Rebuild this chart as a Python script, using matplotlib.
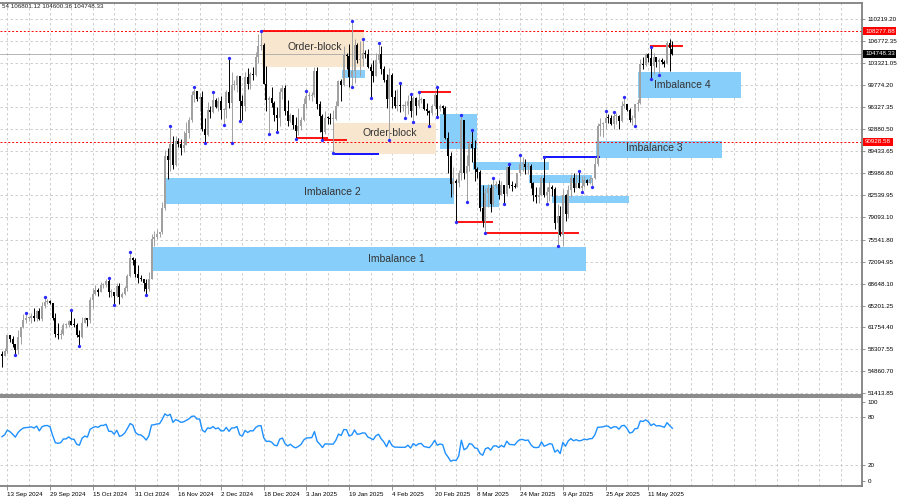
import numpy as np
import pandas as pd
import matplotlib
matplotlib.use('Agg')
import matplotlib.pyplot as plt
import matplotlib.dates as mdates
from matplotlib.patches import Rectangle

plt.rcParams['font.family'] = ['Liberation Sans', 'DejaVu Sans']

# BTCUSD daily bars, prices in thousands of USD, first bar on 11 Sep 2024
start_date = '2024-09-11'

opens = [
    57.6, 57.3, 58.1, 60.5, 60.0, 59.2, 58.2, 60.3, 61.8, 62.9, 63.2, 63.3, 63.6, 63.3, 64.3, 63.1, 65.2, 65.8, 65.9, 65.6,  # sep
    63.3, 60.8, 60.6, 60.8, 62.1, 62.1, 62.8, 62.2, 62.1, 60.6, 60.3, 62.4, 63.2, 62.9, 66.1, 67.0, 67.6, 67.4, 68.4, 68.4,
    69.0, 67.4, 67.4, 66.7, 68.2, 66.6, 67.0, 67.9, 69.9, 72.7, 72.3,  # oct
    70.2, 69.5, 69.4, 68.8, 67.8, 69.4, 75.6, 75.9, 76.5, 76.7, 80.5, 88.7, 88.0, 90.6, 87.3, 91.1, 90.6, 89.9, 90.5, 92.3,
    94.3, 98.3, 98.9, 97.7, 97.9, 93.0, 92.0, 95.9, 95.6, 97.5,  # nov
    96.4, 97.3, 95.9, 96.0, 98.8, 97.0, 99.9, 99.9, 101.2, 97.3, 96.6, 101.1, 100.0, 101.5, 101.4, 104.3, 106.0, 106.1,
    100.0, 97.5, 97.8, 97.1, 95.1, 94.7, 98.7, 99.4, 95.8, 94.2, 95.2, 93.5, 92.6,  # dec
    93.4, 94.4, 96.9, 98.1, 98.2, 98.3, 102.1, 96.9, 95.0, 92.5, 94.7, 94.6, 94.5, 94.5, 96.5, 100.5, 99.8, 104.5, 104.4,
    101.1, 102.0, 106.1, 103.7, 104.0, 104.8, 104.7, 102.7, 102.1, 101.3, 103.7, 104.7,  # jan
    102.4, 100.7, 97.7, 101.4, 97.9, 96.6, 96.6, 96.5, 96.5, 96.5, 97.4, 95.8, 97.8, 96.6, 97.5, 97.6, 96.1, 95.8, 95.5,
    96.6, 98.3, 96.1, 96.6, 96.3, 91.6, 88.7, 84.3, 84.7,  # feb
    84.4, 86.0, 94.3, 86.1, 87.2, 90.6, 90.0, 86.7, 86.2, 80.6, 78.5, 82.9, 83.7, 81.1, 84.0, 84.3, 82.6, 84.1, 82.7, 86.9,
    84.2, 84.0, 83.8, 86.1, 87.5, 87.5, 86.9, 87.2, 84.4, 82.6, 82.3,  # mar
    82.5, 85.2, 82.5, 83.1, 83.8, 83.5, 78.2, 79.2, 76.3, 82.6, 79.6, 83.4, 85.3, 83.7, 84.5, 83.7, 84.0, 84.9, 84.5, 85.1,
    85.2, 87.5, 93.4, 93.7, 93.9, 94.7, 94.6, 93.8, 95.0, 95.0,  # apr
    94.2, 96.5, 96.9, 95.9, 94.3, 94.7, 96.8, 97.0, 103.2, 103.0, 104.7, 104.1, 102.8, 104.2, 103.5, 103.7, 103.5, 103.2,
    106.5, 105.46054,  # may
]
highs = [
    58.0, 58.6, 60.6, 60.6, 60.4, 59.2, 61.3, 61.8, 63.8, 64.1, 63.5, 64.0, 64.8, 64.5, 64.8, 65.8, 66.5, 66.3, 66.1, 65.6,
    64.1, 62.4, 61.5, 62.5, 62.4, 62.9, 64.5, 63.2, 62.5, 61.3, 63.4, 63.4, 63.3, 66.5, 67.9, 68.4, 67.9, 68.9, 68.7, 69.4,
    69.5, 67.8, 67.4, 68.8, 68.8, 67.4, 68.3, 70.2, 73.6, 72.9, 72.6,
    71.6, 70.0, 69.4, 69.4, 70.5, 76.4, 76.9, 77.2, 76.8, 81.5, 89.6, 89.9, 93.4, 91.8, 91.8, 91.6, 91.4, 92.6, 94.0, 94.8,
    98.9, 99.6, 98.9, 98.6, 98.9, 94.7, 97.2, 96.6, 98.7, 97.8,
    97.9, 98.1, 96.3, 99.0, 104.1, 101.9, 100.6, 101.4, 101.2, 98.3, 101.9, 102.5, 101.9, 102.6, 105.1, 107.8, 108.3,
    106.5, 102.8, 98.1, 99.5, 97.4, 96.4, 99.4, 99.9, 99.9, 97.5, 95.5, 95.2, 94.9, 96.2,
    94.9, 97.8, 98.9, 98.7, 98.8, 102.7, 102.7, 97.3, 95.3, 95.8, 95.0, 95.4, 95.9, 97.4, 100.7, 100.8, 105.9, 104.9,
    106.3, 109.9, 107.1, 106.4, 106.8, 107.0, 105.3, 105.5, 103.2, 103.8, 104.8, 106.4, 106.0,
    102.8, 101.5, 102.5, 101.7, 99.1, 99.2, 100.1, 96.9, 97.3, 98.3, 98.5, 98.1, 97.9, 98.8, 97.9, 97.7, 97.0, 96.0, 96.9,
    98.8, 99.5, 96.9, 96.7, 96.5, 92.5, 89.3, 87.0, 85.1,
    86.5, 95.1, 94.4, 88.9, 91.0, 92.8, 91.2, 86.9, 86.5, 84.1, 83.6, 84.3, 84.3, 85.2, 84.7, 85.0, 84.7, 84.1, 87.0, 87.4,
    84.8, 84.5, 86.1, 88.8, 88.5, 88.3, 87.8, 87.5, 84.6, 83.9, 83.9,
    85.5, 88.5, 83.9, 84.7, 84.2, 83.8, 81.1, 80.8, 83.5, 82.7, 84.2, 85.8, 86.1, 85.8, 86.4, 85.5, 85.5, 85.1, 85.6, 85.3,
    88.5, 93.9, 94.7, 94.0, 95.7, 95.3, 95.2, 95.6, 95.4, 95.2,
    97.4, 97.9, 96.9, 96.3, 95.2, 96.9, 97.7, 103.9, 104.3, 104.9, 104.9, 105.8, 104.9, 104.3, 104.1, 104.1, 103.7, 106.7,
    107.1, 106.80112,
]
lows = [
    55.6, 57.3, 57.7, 59.5, 58.7, 57.5, 57.6, 59.2, 61.6, 62.4, 62.8, 62.4, 62.7, 62.7, 62.9, 62.7, 64.8, 65.4, 65.4, 62.9,
    60.2, 59.9, 59.9, 60.5, 61.7, 61.8, 62.1, 61.8, 60.3, 58.9, 60.1, 62.4, 62.0, 62.5, 64.8, 66.8, 66.7, 67.3, 68.0, 68.1,
    66.6, 66.6, 65.3, 66.6, 65.5, 66.4, 66.8, 67.5, 69.7, 71.5, 69.7,
    68.8, 69.0, 67.5, 66.8, 67.5, 69.3, 74.5, 75.6, 75.9, 76.5, 80.2, 85.1, 86.3, 86.7, 87.1, 90.1, 88.8, 89.4, 90.4, 91.6,
    94.1, 97.2, 97.3, 95.8, 92.6, 90.8, 91.8, 94.6, 95.4, 96.2,
    95.7, 94.5, 93.6, 94.7, 96.3, 90.8, 99.0, 98.8, 94.2, 94.3, 95.7, 99.3, 99.2, 100.6, 101.2, 103.3, 105.3, 100.0,
    95.7, 92.2, 96.4, 94.2, 92.4, 93.4, 97.6, 95.2, 93.4, 94.1, 93.0, 91.3, 92.0,
    92.8, 94.2, 96.2, 97.5, 97.3, 97.9, 96.1, 92.5, 91.2, 92.2, 93.8, 93.7, 89.1, 94.3, 96.5, 97.4, 99.7, 102.3, 99.6,
    99.5, 100.1, 103.3, 101.3, 102.8, 104.1, 102.5, 97.8, 100.3, 101.3, 103.3, 101.6,
    100.3, 96.2, 91.2, 96.2, 96.2, 95.7, 95.6, 95.7, 94.7, 95.3, 94.9, 94.1, 95.2, 96.3, 97.1, 96.0, 95.2, 93.4, 95.2,
    96.4, 94.9, 95.8, 95.3, 91.4, 86.1, 82.3, 82.8, 78.3,
    83.9, 85.0, 85.1, 81.5, 86.3, 87.8, 84.7, 85.3, 80.1, 77.5, 76.6, 80.7, 79.9, 80.8, 83.6, 82.0, 82.5, 81.2, 82.4, 83.7,
    83.2, 83.7, 83.8, 85.5, 86.3, 85.9, 85.8, 83.6, 81.6, 81.3, 81.3,
    82.4, 82.3, 81.2, 81.7, 82.4, 77.2, 74.5, 76.2, 74.6, 78.5, 78.9, 82.3, 83.0, 83.7, 83.6, 83.1, 83.9, 84.1, 84.3, 83.9,
    85.1, 87.1, 91.9, 91.7, 92.9, 93.9, 93.6, 92.9, 93.8, 92.9,
    94.1, 96.3, 95.7, 94.1, 93.5, 93.4, 95.8, 96.9, 102.3, 102.8, 103.4, 100.8, 101.5, 102.6, 101.4, 103.1, 102.6, 103.1,
    102.1, 104.60036,
]
closes = [
    57.3, 58.1, 60.5, 60.0, 59.2, 58.2, 60.3, 61.8, 62.9, 63.2, 63.3, 63.6, 63.3, 64.3, 63.1, 65.2, 65.8, 65.9, 65.6, 63.3,
    60.8, 60.6, 60.8, 62.1, 62.1, 62.8, 62.2, 62.1, 60.6, 60.3, 62.4, 63.2, 62.9, 66.1, 67.0, 67.6, 67.4, 68.4, 68.4, 69.0,
    67.4, 67.4, 66.7, 68.2, 66.6, 67.0, 67.9, 69.9, 72.7, 72.3, 70.2,
    69.5, 69.4, 68.8, 67.8, 69.4, 75.6, 75.9, 76.5, 76.7, 80.5, 88.7, 88.0, 90.6, 87.3, 91.1, 90.6, 89.9, 90.5, 92.3, 94.3,
    98.3, 98.9, 97.7, 97.9, 93.0, 92.0, 95.9, 95.6, 97.5, 96.4,
    97.3, 95.9, 96.0, 98.8, 97.0, 99.9, 99.9, 101.2, 97.3, 96.6, 101.1, 100.0, 101.5, 101.4, 104.3, 106.0, 106.1, 100.0,
    97.5, 97.8, 97.1, 95.1, 94.7, 98.7, 99.4, 95.8, 94.2, 95.2, 93.5, 92.6, 93.4,
    94.4, 96.9, 98.1, 98.2, 98.3, 102.1, 96.9, 95.0, 92.5, 94.7, 94.6, 94.5, 94.5, 96.5, 100.5, 99.8, 104.5, 104.4, 101.1,
    102.0, 106.1, 103.7, 104.0, 104.8, 104.7, 102.7, 102.1, 101.3, 103.7, 104.7, 102.4,
    100.7, 97.7, 101.4, 97.9, 96.6, 96.6, 96.5, 96.5, 96.5, 97.4, 95.8, 97.8, 96.6, 97.5, 97.6, 96.1, 95.8, 95.5, 96.6,
    98.3, 96.1, 96.6, 96.3, 91.6, 88.7, 84.3, 84.7, 84.4,
    86.0, 94.3, 86.1, 87.2, 90.6, 90.0, 86.7, 86.2, 80.6, 78.5, 82.9, 83.7, 81.1, 84.0, 84.3, 82.6, 84.1, 82.7, 86.9, 84.2,
    84.0, 83.8, 86.1, 87.5, 87.5, 86.9, 87.2, 84.4, 82.6, 82.3, 82.5,
    85.2, 82.5, 83.1, 83.8, 83.5, 78.2, 79.2, 76.3, 82.6, 79.6, 83.4, 85.3, 83.7, 84.5, 83.7, 84.0, 84.9, 84.5, 85.1, 85.2,
    87.5, 93.4, 93.7, 93.9, 94.7, 94.6, 93.8, 95.0, 95.0, 94.2,
    96.5, 96.9, 95.9, 94.3, 94.7, 96.8, 97.0, 103.2, 103.0, 104.7, 104.1, 102.8, 104.2, 103.5, 103.7, 103.5, 103.2, 106.5,
    105.6, 104.74833,
]
# closes from 15 Aug to 10 Sep 2024, only used to warm up the RSI
warmup_closes = [57.6, 58.9, 59.5, 58.5, 59.5, 59.0, 61.2, 60.4, 64.1, 64.2, 64.3, 62.8, 59.4, 59.0,
                 59.4, 59.1, 59.0, 57.3, 59.1, 57.5, 58.0, 56.2, 54.0, 54.2, 54.8, 57.0, 57.6]

# price-axis labels as printed by the terminal
price_ticks = [110219.20, 106772.35, 103321.05, 99774.20, 96327.35, 92880.50, 89433.65, 85986.80, 82539.95,
               79093.10, 75541.80, 72094.95, 68648.10, 65201.25, 61754.40, 58307.55, 54860.70, 51413.85]
header = '54 106801.12 104600.36 104748.33'
high_line = 108277.88
low_line = 90928.58
last_price = 104748.33

# drawn zones (start, end, top, bottom in k$)
zone_start = ['2024-12-17 06:00', '2025-01-13 05:00', '2025-01-16 05:00', '2025-02-22', '2024-11-11', '2024-11-06',
              '2025-04-21 12:00', '2025-05-07 05:00', '2025-03-06 05:00', '2025-03-27 12:00', '2025-04-05', '2025-03-09']
zone_end = ['2025-01-24 10:00', '2025-02-20 08:00', '2025-01-25', '2025-03-08', '2025-02-27 10:00', '2025-04-17 17:00',
            '2025-06-07 17:00', '2025-06-14 17:00', '2025-04-03 22:00', '2025-04-20', '2025-05-03 22:00', '2025-03-15 22:00']
zone_top = [108.38, 93.92, 102.2, 95.29, 85.2, 74.38, 91.12, 101.94, 87.79, 85.7, 82.4, 84.12]
zone_bottom = [102.72, 89.0, 100.9, 89.74, 81.15, 70.65, 88.45, 97.75, 86.48, 84.49, 81.25, 80.67]
zone_kind = ['ob', 'ob', 'imb', 'imb', 'imb', 'imb', 'imb', 'imb', 'imb', 'imb', 'imb', 'imb']

label_text = ['Order-block', 'Order-block', 'Imbalance 2', 'Imbalance 1', 'Imbalance 3', 'Imbalance 4']
label_date = ['2025-01-06 03:00', '2025-02-03 03:00', '2025-01-12 20:00', '2025-02-05 14:00', '2025-05-13 05:00',
              '2025-05-23 14:00']
label_price = [105.8, 92.35, 83.0, 72.45, 89.9, 99.84]

# horizontal level segments
level_start = ['2024-12-17 06:00', '2024-12-30 07:00', '2025-01-09', '2025-01-13 05:00', '2025-02-14', '2025-02-27 20:00',
               '2025-03-11', '2025-04-01 17:00', '2025-05-11 17:00']
level_end = ['2025-01-24 10:00', '2025-01-10 22:00', '2025-01-18', '2025-01-30', '2025-02-26 07:00', '2025-03-14',
             '2025-04-15 05:00', '2025-04-23', '2025-05-24']
level_price = [108.38, 91.56, 91.15, 89.05, 98.79, 78.26, 76.53, 88.57, 105.98]
level_color = ['red', 'red', 'red', 'blue', 'red', 'red', 'red', 'blue', 'red']

n = len(closes)
assert len(opens) == n and len(highs) == n and len(lows) == n

dates = pd.date_range(start_date, periods=n, freq='D')
x = mdates.date2num(dates)
o = np.array(opens) * 1000
h = np.array(highs) * 1000
l = np.array(lows) * 1000
c = np.array(closes) * 1000

# RSI(14), Wilder smoothing
allc = pd.Series(warmup_closes + closes) * 1000
diff = allc.diff()
gain = diff.clip(lower=0).ewm(alpha=1 / 14, adjust=False).mean()
loss = (-diff.clip(upper=0)).ewm(alpha=1 / 14, adjust=False).mean()
rsi = (100 - 100 / (1 + gain / loss)).values[-n:]

# Bill Williams fractals
up_frac = [i for i in range(2, n - 2) if h[i] > max(h[i - 2], h[i - 1], h[i + 1], h[i + 2])]
dn_frac = [i for i in range(2, n - 2) if l[i] < min(l[i - 2], l[i - 1], l[i + 1], l[i + 2])]

t0 = mdates.date2num(pd.Timestamp('2024-09-13'))
xlim = (t0 - 2.73, t0 + 319.6)

grid_kw = dict(color='#c6c6c6', linestyle=(0, (3, 3)), linewidth=0.6)
frame = '#808080'

fig = plt.figure(figsize=(9, 5), dpi=100)
ax = fig.add_axes([0, 0.21, 862 / 900, 0.784])
ax2 = fig.add_axes([0, 0.029, 862 / 900, 0.177])

# main price panel
ax.set_xlim(*xlim)
ax.set_ylim(51147, 112733)
grid_x = mdates.date2num(pd.date_range('2024-09-13', '2025-08-01', freq='8D'))
ax.set_xticks(grid_x)
ax.tick_params(axis='x', length=0, labelbottom=False)
ax.set_yticks(price_ticks)
ax.set_yticklabels([f'{v:.2f}' for v in price_ticks])
ax.yaxis.tick_right()
ax.tick_params(axis='y', length=2.5, width=0.6, color=frame, labelsize=4.5, pad=1.5)
ax.grid(True, **grid_kw)
ax.set_axisbelow(True)

for s, e, top, bot, kind in zip(zone_start, zone_end, zone_top, zone_bottom, zone_kind):
    x0 = mdates.date2num(pd.Timestamp(s))
    x1 = mdates.date2num(pd.Timestamp(e))
    fc = '#f8e6cf' if kind == 'ob' else '#87cefa'
    ax.add_patch(Rectangle((x0, bot * 1000), x1 - x0, (top - bot) * 1000, facecolor=fc, lw=0, zorder=1.5))

for s, e, p, col in zip(level_start, level_end, level_price, level_color):
    ax.hlines(p * 1000, mdates.date2num(pd.Timestamp(s)), mdates.date2num(pd.Timestamp(e)),
              colors='#ff0000' if col == 'red' else '#0000ff', linewidth=1.3, zorder=2.5)

ax.axhline(high_line, color='#ff0000', linestyle=(0, (2, 2)), linewidth=0.7, zorder=2)
ax.axhline(low_line, color='#ff0000', linestyle=(0, (2, 2)), linewidth=0.7, zorder=2)
ax.axhline(last_price, color='#a8a8a8', linewidth=0.6, zorder=2)

for t, d, p in zip(label_text, label_date, label_price):
    ax.text(mdates.date2num(pd.Timestamp(d)), p * 1000, t, fontsize=7.5, color='#333333',
            ha='center', va='center', zorder=3)

# candles
up = c >= o
col = np.where(up, '#a0a0a0', '#000000')
ax.vlines(x, l, h, colors=col, linewidth=0.7, zorder=4)
body = np.maximum(np.abs(c - o), 150)
ax.bar(x, body, bottom=np.minimum(o, c), width=0.75, color=col, linewidth=0, zorder=5)

ax.plot(x[up_frac], h[up_frac], 'o', color='#2b2bff', markersize=2.4, markeredgewidth=0, zorder=6)
ax.plot(x[dn_frac], l[dn_frac], 'o', color='#2b2bff', markersize=2.4, markeredgewidth=0, zorder=6)

ax.text(0.002, 0.991, header, transform=ax.transAxes, fontsize=4.5, ha='left', va='center', color='#222222')

# price tags on the right
tag_x = 1 + 3 / 862
for p, fc in [(high_line, '#ff0000'), (low_line, '#ff0000'), (last_price, '#000000')]:
    ax.text(tag_x, p, f'{p:.2f}', transform=ax.get_yaxis_transform(), fontsize=4.5, color='white',
            ha='left', va='center', clip_on=False, zorder=10,
            bbox=dict(boxstyle='square,pad=0.25', facecolor=fc, edgecolor='none'))

for side in ['top', 'right', 'bottom']:
    ax.spines[side].set_color(frame)
    ax.spines[side].set_linewidth(1.3)
ax.spines['left'].set_visible(False)

# RSI panel
ax2.set_xlim(*xlim)
ax2.set_ylim(-6.1, 105.9)
ax2.plot(x, rsi, color='#1e90ff', linewidth=1.0, zorder=3)
ax2.axhline(80, **grid_kw)
ax2.axhline(20, **grid_kw)
ax2.set_yticks([100, 80, 20, 0])
ax2.yaxis.tick_right()
ax2.tick_params(axis='y', length=2.5, width=0.6, color=frame, labelsize=4.5, pad=1.5)

tick_dates = pd.date_range('2024-09-13', periods=16, freq='16D')
ax2.set_xticks(mdates.date2num(tick_dates))
ax2.set_xticklabels([f'{d.day} {d:%b %Y}' for d in tick_dates], ha='left')
ax2.set_xticks(grid_x, minor=True)
ax2.tick_params(axis='x', which='major', length=3, width=0.6, color=frame, labelsize=4.5, pad=1.5)
ax2.tick_params(axis='x', which='minor', length=0)
ax2.grid(True, axis='x', which='both', **grid_kw)
ax2.set_axisbelow(True)

for side in ['top', 'right', 'bottom']:
    ax2.spines[side].set_color(frame)
    ax2.spines[side].set_linewidth(1.3)
ax2.spines['left'].set_visible(False)

fig.savefig('out.png', dpi=100)
